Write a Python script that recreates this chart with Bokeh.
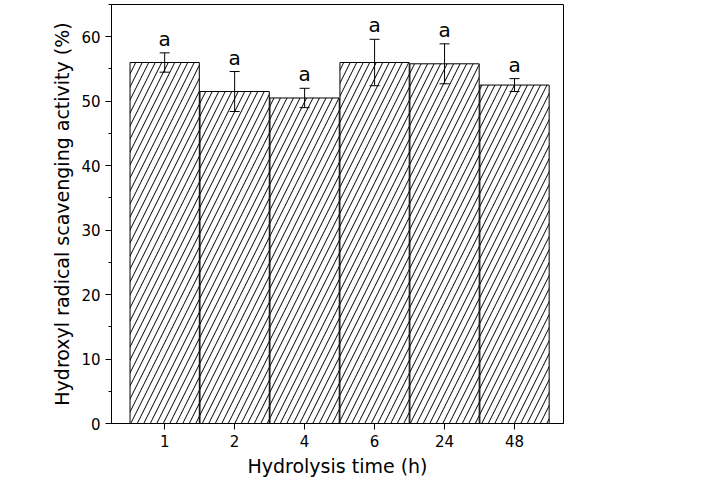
from bokeh.plotting import figure
from bokeh.models import ColumnDataSource, Whisker, Range1d, FixedTicker, LabelSet, TeeHead
from bokeh.core.properties import value
from bokeh.embed import file_html
from bokeh.resources import INLINE

cats = ["1", "2", "4", "6", "24", "48"]
vals = [56.0, 51.5, 50.5, 56.0, 55.8, 52.5]
errs = [1.5, 3.1, 1.5, 3.6, 3.1, 1.0]
letters = ["a"] * 6

x = list(range(len(cats)))
src = ColumnDataSource(dict(x=x, top=vals, up=[v + e for v, e in zip(vals, errs)],
                            lo=[v - e for v, e in zip(vals, errs)],
                            ly=[v + e + 0.3 for v, e in zip(vals, errs)], t=letters))

p = figure(width=690, height=481, output_backend="svg", toolbar_location=None,
           x_range=Range1d(-0.76, 5.7), y_range=Range1d(0, 65),
           min_border_left=111, min_border_right=127, min_border_top=4, min_border_bottom=58)
p.vbar(x="x", top="top", width=0.99, source=src, fill_color="white", line_color="black",
       hatch_pattern="/", hatch_color="black", hatch_scale=13, hatch_weight=1)
wk = Whisker(source=src, base="x", upper="up", lower="lo", line_color="black", level="overlay",
             upper_head=TeeHead(size=10, line_color="black"),
             lower_head=TeeHead(size=10, line_color="black"))
p.add_layout(wk)
p.add_layout(LabelSet(x="x", y="ly", text="t", source=src, text_align="center",
                      text_font=value("DejaVu Sans"), text_font_size="20px", text_color="black"))
p.xaxis.ticker = FixedTicker(ticks=x)
p.xaxis.major_label_overrides = {i: c for i, c in enumerate(cats)}
p.yaxis.ticker = FixedTicker(ticks=[0, 10, 20, 30, 40, 50, 60],
                             minor_ticks=[5, 15, 25, 35, 45, 55, 65])
p.xaxis.axis_label = "Hydrolysis time (h)"
p.yaxis.axis_label = "Hydroxyl radical scavenging activity (%)"
for ax in (p.xaxis, p.yaxis):
    ax.axis_label_text_font = "DejaVu Sans"
    ax.axis_label_text_font_style = "normal"
    ax.axis_label_text_font_size = "19px"
    ax.axis_label_text_color = "black"
    ax.major_label_text_font = "DejaVu Sans"
    ax.major_label_text_font_size = "15px"
    ax.major_label_text_color = "black"
    ax.axis_line_color = "black"
    ax.major_tick_line_color = "black"
    ax.major_tick_out = 6
    ax.major_tick_in = 0
    ax.minor_tick_out = 3
    ax.minor_tick_in = 0
p.xaxis.minor_tick_line_color = None
p.grid.visible = False
p.outline_line_color = "black"
p.outline_line_width = 1

open("out.html", "w").write(file_html(p, INLINE))
